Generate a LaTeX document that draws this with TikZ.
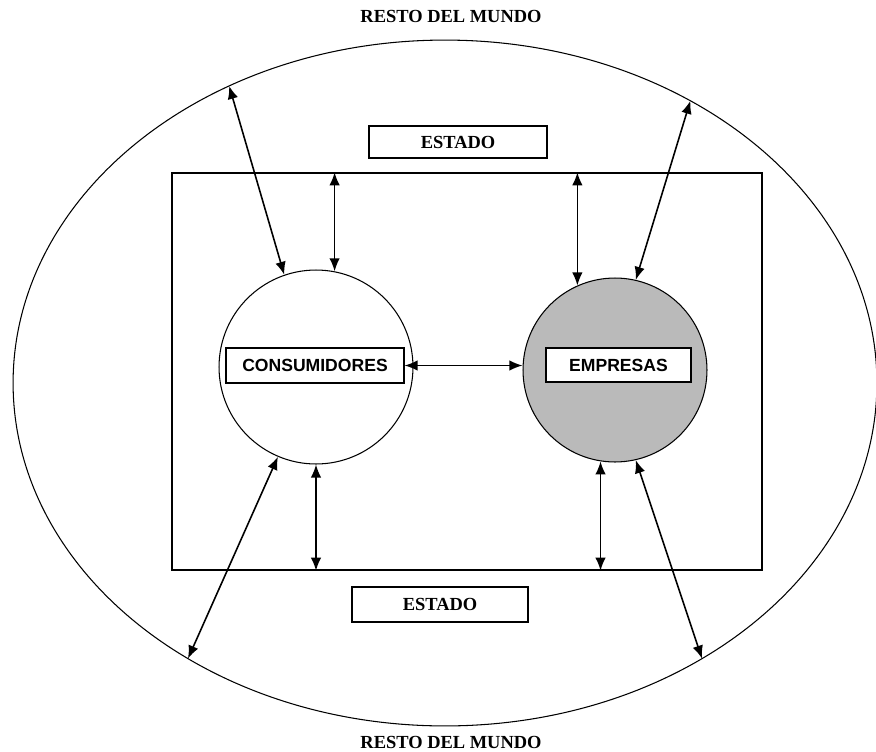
\documentclass[tikz,border=0pt]{standalone}
\usepackage{fontspec}
\setmainfont{Liberation Serif}
\newfontfamily\labelfont{Liberation Sans}
\usepackage{tikz}
\usetikzlibrary{
	shapes,
	calc,
	arrows.meta}

\begin{document}
\begin{tikzpicture}[x=0.02cm,y=-0.02cm,every node/.style={font=\fontsize{10.5}{12}\selectfont\bfseries}]
  \tikzstyle{caja}=[rectangle,draw,line width=0.6pt,inner sep=0pt,fill=white]
  \tikzstyle{sector}=[circle,draw,line width=0.6pt,inner sep=0pt]
  \tikzstyle{flujo}=[{Latex[length=2.6mm,width=2.1mm]}-{Latex[length=2.6mm,width=2.1mm]},line width=0.9pt]

  \useasboundingbox (0,0) rectangle (876,751);

  \node [ellipse,draw,line width=0.6pt,minimum width=17.28cm,minimum height=13.72cm,inner sep=0pt,outer sep=0pt] (mundo) at (445,383) {};
  \node (mundoA) at (451,16) {RESTO DEL MUNDO};
  \node (mundoB) at (451,742) {RESTO DEL MUNDO};

  \node [rectangle,draw,line width=0.8pt,minimum width=11.8cm,minimum height=7.94cm] (pais) at (467,371.5) {};
  \node [caja,minimum width=3.56cm,minimum height=0.64cm] (estadoA) at (458,142) {ESTADO};
  \node [caja,minimum width=3.52cm,minimum height=0.7cm] (estadoB) at (440,604.5) {ESTADO};

  \node [sector,minimum size=3.88cm] (cons) at (316,367) {};
  \node [sector,minimum size=3.68cm,fill=black!27] (emp) at (615,370) {};
  \node [caja,minimum width=3.56cm,minimum height=0.7cm,font=\labelfont\fontsize{10}{12}\selectfont\bfseries] (consL) at (315,365.5) {CONSUMIDORES};
  \node [caja,minimum width=2.9cm,minimum height=0.68cm,font=\labelfont\fontsize{10}{12}\selectfont\bfseries] (empL) at (618.5,365) {EMPRESAS};

  \draw [flujo] (mundo.126.4) -- (cons.109);
  \draw [flujo] (mundo.49.8) -- (emp.77);
  \draw [flujo] (cons.79 |- pais.north) -- (cons.79);
  \draw [flujo] (emp.114 |- pais.north) -- (emp.114);
  \draw [flujo] (consL.east) -- (consL.east -| emp.west);
  \draw [flujo] (cons.south) -- (cons.south |- pais.south);
  \draw [flujo] (emp.261) -- (emp.261 |- pais.south);
  \draw [flujo] (cons.247) -- (mundo.227.4);
  \draw [flujo] (emp.283) -- (mundo.313.8);
\end{tikzpicture}
\end{document}
